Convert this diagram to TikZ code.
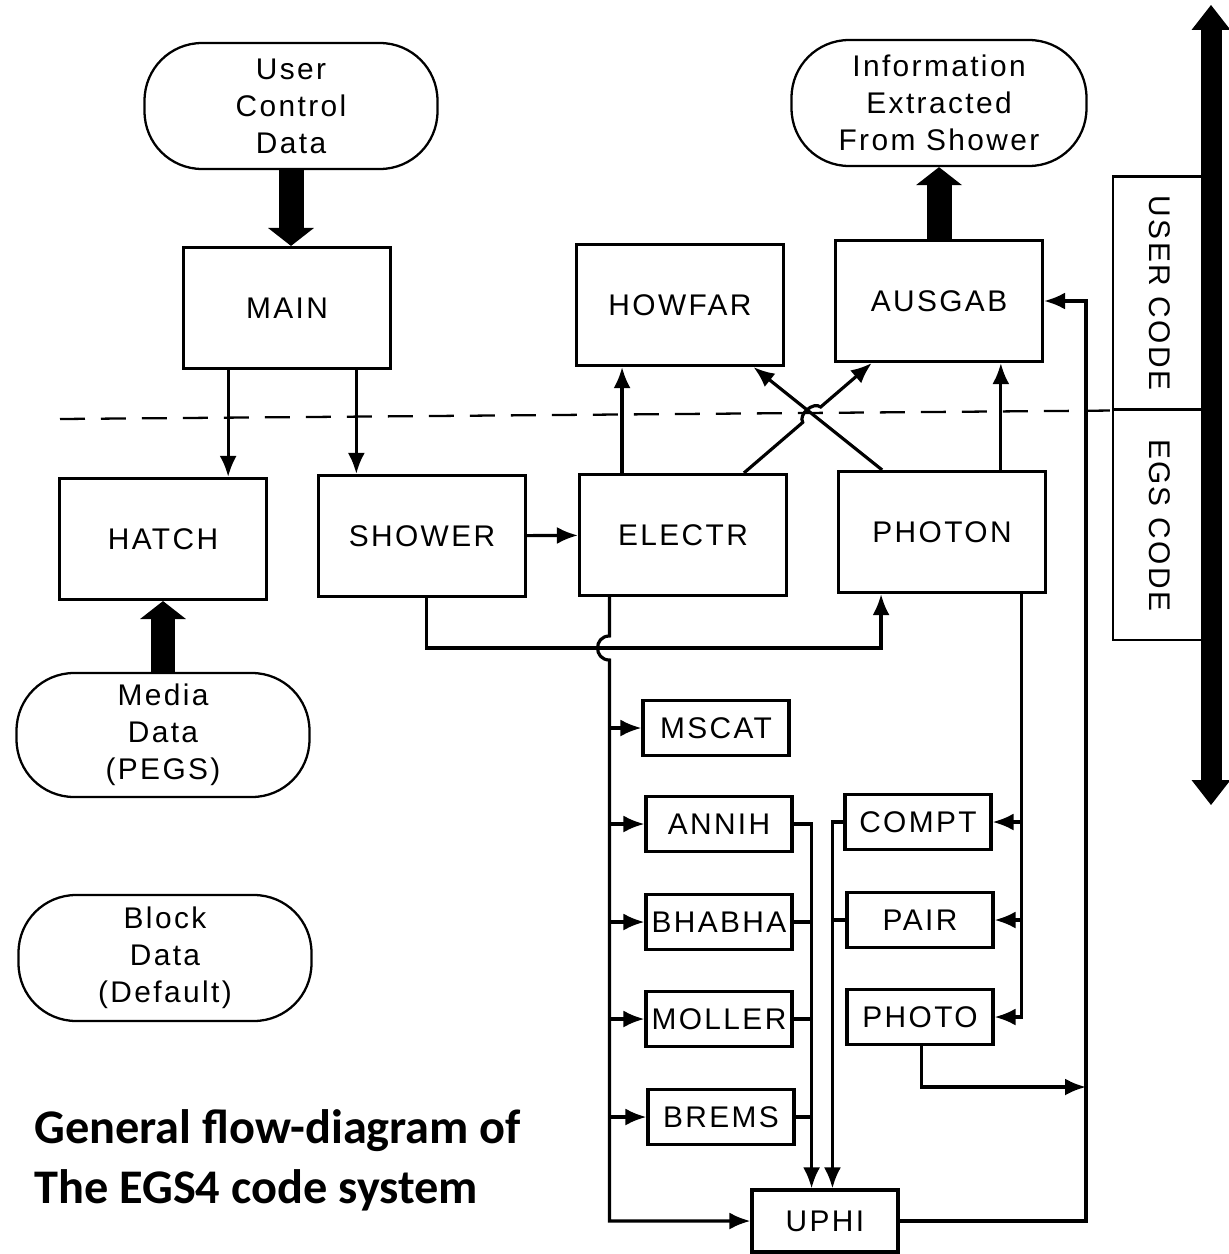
\documentclass[tikz,border=0pt]{standalone}
\usepackage{fontspec}
\usetikzlibrary{arrows.meta,positioning,calc}
\newfontfamily\leroy[LetterSpace=8]{Liberation Sans}
\newfontfamily\capfont{Carlito}
\tikzset{
    routine/.style={draw, line width=1.8pt, inner sep=0pt, font=\leroy\fontsize{17}{21}\selectfont},
    bigbox/.style={routine, minimum width=4.14cm, minimum height=2.42cm},
    smallbox/.style={routine, minimum width=2.92cm, minimum height=1.1cm},
    datafile/.style={routine, line width=1.3pt, rounded corners=1.15cm, align=center,
                     minimum width=5.86cm, minimum height=2.52cm},
    codebox/.style={routine, line width=1.2pt, rotate=-90, minimum height=1.88cm},
    flow/.style={line width=1.8pt, -{Latex[length=0.42cm,width=0.34cm]}},
    link/.style={line width=1.8pt},
    fat/.style={line width=0.5cm, -{Triangle[length=0.36cm,width=0.92cm,line width=0pt]}},
    divider/.style={line width=1.3pt, dash pattern=on 0.5cm off 0.32cm},
}

\begin{document}
\begin{tikzpicture}[x=0.02cm, y=-0.02cm]
    \useasboundingbox (0,0) rectangle (1229,1254);

    % Data in and out
    \node[datafile] (ucd) at (291,106) {User\\Control\\Data};
    \node[datafile, minimum width=5.9cm] (info) at (939,103) {Information\\Extracted\\From Shower};
    \node[datafile, minimum height=2.48cm] (media) at (163,735) {Media\\Data\\(PEGS)};
    \node[datafile] (block) at (165,958) {Block\\Data\\(Default)};

    % User routines
    \node[bigbox] (main) at (287,308) {MAIN};
    \node[bigbox] (howfar) at (680,305) {HOWFAR};
    \node[bigbox] (ausgab) at (939,301) {AUSGAB};

    % EGS routines
    \node[bigbox] (hatch) at (163,539) {HATCH};
    \node[bigbox] (shower) at (422,536) {SHOWER};
    \node[bigbox] (electr) at (683,535) {ELECTR};
    \node[bigbox] (photon) at (942,532) {PHOTON};

    \node[smallbox] (mscat) at (716,728) {MSCAT};
    \node[smallbox] (annih) at (719,824) {ANNIH};
    \node[smallbox] (bhabha) at (719,922) {BHABHA};
    \node[smallbox] (moller) at (719,1019) {MOLLER};
    \node[smallbox] (brems) at (721,1117) {BREMS};
    \node[smallbox] (compt) at (918,822) {COMPT};
    \node[smallbox] (pair) at (920,920) {PAIR};
    \node[smallbox] (photo) at (920,1017) {PHOTO};
    \node[smallbox, minimum height=1.24cm] (uphi) at (825,1221) {UPHI};

    % User / EGS split
    \node[codebox, minimum width=4.66cm] (usercode) at (1160,293) {USER CODE};
    \node[codebox, minimum width=4.6cm] (egscode) at (1160,525) {EGS CODE};
    \coordinate (dashL) at (60,419);
    \draw[divider] (dashL) -- (usercode.south east);
    \coordinate (bartop) at (1211,5);
    \coordinate (barbot) at (1211,805);
    \draw[line width=0.42cm, {Triangle[length=0.5cm,width=0.78cm,line width=0pt]}-{Triangle[length=0.5cm,width=0.78cm,line width=0pt]}] (bartop) -- (barbot);

    % Data flow
    \draw[fat] (ucd.south) -- (ucd.south |- main.north);
    \draw[fat] (ausgab.north) -- (ausgab.north |- info.south);
    \draw[fat] (media.north) -- (media.north |- hatch.south);

    % Calls from MAIN
    \draw[flow] ($(main.south west)!0.22!(main.south east)$) coordinate (m1) -- (m1 |- hatch.north);
    \draw[flow] ($(main.south west)!0.83!(main.south east)$) coordinate (m2) -- (m2 |- shower.north);

    % SHOWER
    \coordinate (busy) at (0,648);
    \coordinate (s1) at ($(shower.south west)!0.52!(shower.south east)$);
    \coordinate (p0) at ($(photon.south west)!0.21!(photon.south east)$);
    \draw[flow] (shower) -- (electr);
    \draw[flow] (s1) |- (p0 |- busy) -- (p0);

    % ELECTR
    \draw[flow] ($(electr.north west)!0.21!(electr.north east)$) coordinate (e3) -- (e3 |- howfar.south);
    \coordinate (a2) at ($(ausgab.south west)!0.18!(ausgab.south east)$);
    \draw[flow] ($(electr.north west)!0.79!(electr.north east)$) coordinate (e2)
        -- ($(e2)!0.46!(a2)$) to[bend left=80] ($(e2)!0.6!(a2)$) -- (a2);
    \draw[flow] ($(electr.south west)!0.15!(electr.south east)$) coordinate (e1)
        -- ($(e1 |- busy)+(0,-12)$) to[out=180, in=180, looseness=1.7] ($(e1 |- busy)+(0,12)$)
        -- (e1 |- uphi.west) -- (uphi.west);
    \foreach \n in {mscat,annih,bhabha,moller,brems}
        \draw[flow] (e1 |- \n.west) -- (\n.west);

    % PHOTON
    \draw[flow] ($(photon.north west)!0.215!(photon.north east)$) -- ($(howfar.south west)!0.85!(howfar.south east)$);
    \draw[flow] ($(photon.north west)!0.78!(photon.north east)$) coordinate (p1) -- (p1 |- ausgab.south);
    \draw[flow] ($(photon.south west)!0.88!(photon.south east)$) coordinate (p2) |- (photo.east);
    \foreach \n in {compt,pair}
        \draw[flow] (p2 |- \n.east) -- (\n.east);

    % into UPHI
    \coordinate (u1) at ($(uphi.north west)!0.41!(uphi.north east)$);
    \coordinate (u2) at ($(uphi.north west)!0.55!(uphi.north east)$);
    \draw[flow] (annih.east) -| (u1);
    \foreach \n in {bhabha,moller,brems}
        \draw[link] (\n.east) -- (\n.east -| u1);
    \draw[flow] (compt.west) -| (u2);
    \draw[link] (pair.west) -- (pair.west -| u2);

    % back to AUSGAB
    \coordinate (ret) at (1086,1087);
    \draw[flow] (uphi.east) -| (ret) |- (ausgab.east);
    \draw[flow] ($(photo.south west)!0.51!(photo.south east)$) |- (ret);

    \node[anchor=north west, align=left, inner sep=0pt,
          font=\capfont\bfseries\fontsize{27.5}{34.5}\selectfont] (caption) at (34,1109)
          {General flow-diagram of\\The EGS4 code system};
\end{tikzpicture}
\end{document}
